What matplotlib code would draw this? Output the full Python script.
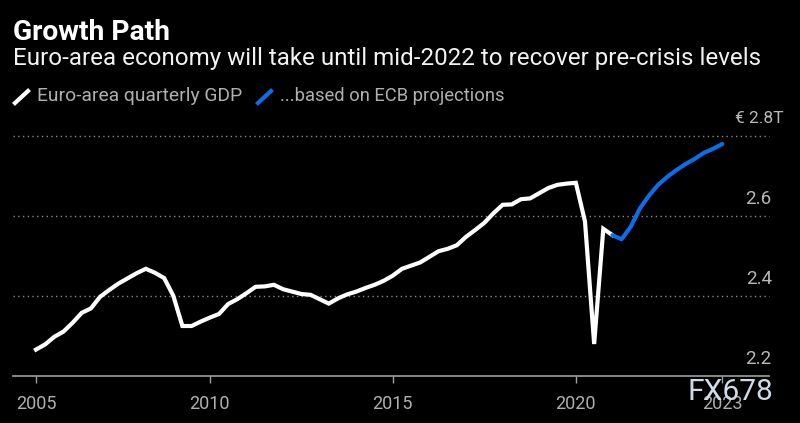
# Euro-area quarterly GDP and ECB projections
import numpy as np
import matplotlib
matplotlib.use("Agg")
import matplotlib.pyplot as plt
from matplotlib.lines import Line2D

plt.rcParams["font.family"] = ["Roboto", "DejaVu Sans"]

gdp = [2.266, 2.279, 2.298, 2.311, 2.333, 2.358, 2.369, 2.398, 2.415, 2.431,
       2.444, 2.457, 2.468, 2.458, 2.445, 2.401, 2.325, 2.325, 2.336, 2.346,
       2.355, 2.380, 2.392, 2.407, 2.423, 2.424, 2.428, 2.417, 2.411, 2.405,
       2.403, 2.392, 2.381, 2.394, 2.404, 2.411, 2.420, 2.428, 2.438, 2.451,
       2.468, 2.476, 2.484, 2.498, 2.512, 2.518, 2.527, 2.548, 2.565, 2.583,
       2.607, 2.628, 2.629, 2.642, 2.644, 2.657, 2.670, 2.678, 2.681, 2.683,
       2.586, 2.280, 2.568, 2.552]
projection = [2.552, 2.542, 2.573, 2.619, 2.651, 2.678, 2.698, 2.715, 2.730,
              2.743, 2.758, 2.768, 2.780]
year_ticks = [0, 19, 39, 59, 75]
year_labels = ["2005", "2010", "2015", "2020", "2023"]
y_grid = [2.4, 2.6, 2.8]
y_labels = ["2.2", "2.4", "2.6", "€ 2.8T"]
y_values = [2.2, 2.4, 2.6, 2.8]

W, H = 800, 423
fig = plt.figure(figsize=(W / 100, H / 100), dpi=100, facecolor="black")

def fx(px):
    return px / W

def fy(py):
    return 1 - py / H

ax = fig.add_axes([fx(13), fy(376), fx(769 - 13), fy(136) - fy(376)], facecolor="black")
ax.set_xlim((13 - 36) / 9.15, (769 - 36) / 9.15)
ax.set_ylim(2.2, 2.8)

for v in y_grid:
    ax.axhline(v, color="#8a8a8a", lw=1, ls=(0, (1, 2.4)), zorder=1, clip_on=False)

x_gdp = np.arange(len(gdp))
x_proj = np.arange(len(gdp) - 1, len(gdp) - 1 + len(projection))
ax.plot(x_gdp, gdp, color="white", lw=3, solid_joinstyle="miter", clip_on=False, zorder=3)
ax.plot(x_proj, projection, color="#0a6fe8", lw=3, solid_capstyle="round",
        solid_joinstyle="round", clip_on=False, zorder=4)

for s in ["top", "left", "right"]:
    ax.spines[s].set_visible(False)
ax.spines["bottom"].set_color("#a0a0a0")
ax.spines["bottom"].set_linewidth(1.2)
ax.set_yticks([])
ax.set_xticks(year_ticks)
ax.set_xticklabels(year_labels, fontsize=13, color="#b0b0b0")
ax.tick_params(axis="x", color="#a0a0a0", length=5, width=1, pad=9)

for v, lab in zip(y_values, y_labels):
    # the top label carries the unit and sticks out past the others
    is_top = lab.endswith("T")
    dx = 2 + (12 * 0.72 if is_top else 0)
    ax.annotate(lab, (1, v), xycoords=("axes fraction", "data"), xytext=(dx, 17.5 * 0.72),
                textcoords="offset points", ha="right", va="center",
                fontsize=12.5 if is_top else 13.5, color="#b8b8b8", annotation_clip=False)

fig.text(fx(13), fy(33), "Growth Path", fontsize=20.3, fontweight="bold", color="white", va="center")
fig.text(fx(13), fy(59), "Euro-area economy will take until mid-2022 to recover pre-crisis levels",
         fontsize=17.4, color="#f2f2f2", va="center")

fig.add_artist(Line2D([fx(15), fx(28)], [fy(103), fy(91)], color="white", lw=3))
fig.text(fx(37), fy(96), "Euro-area quarterly GDP", fontsize=13.9, color="#b0b0b0", va="center")
fig.add_artist(Line2D([fx(258), fx(271)], [fy(103), fy(91)], color="#0a6fe8", lw=3))
fig.text(fx(280), fy(96), "...based on ECB projections", fontsize=13.2, color="#b0b0b0", va="center")

# watermark
fig.text(fx(688), fy(392), "FX678", fontsize=21.5, color="#cfdbe8", va="center", zorder=10)

fig.savefig("out.png", dpi=100, facecolor="black")
